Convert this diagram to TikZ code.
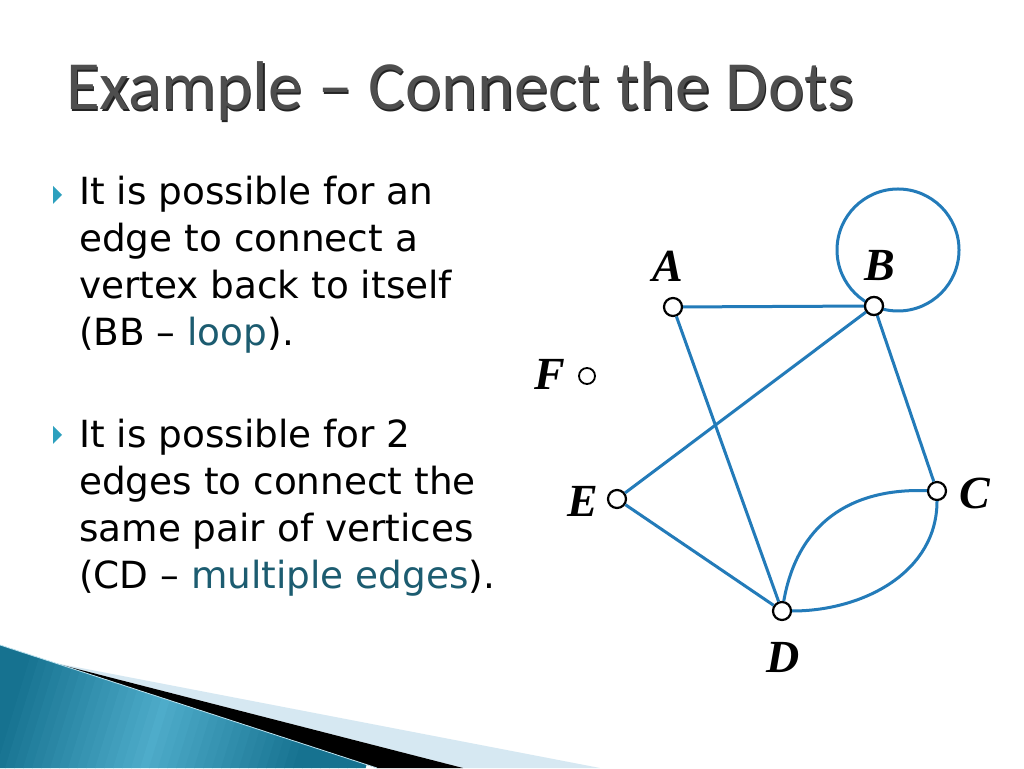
\documentclass[tikz,border=0pt]{standalone}
\usepackage{fontspec}
\setmainfont{DejaVu Sans}
\newfontfamily\titlefont{Carlito}
\newfontfamily\labelfont{Liberation Serif}
\usetikzlibrary{positioning}
\definecolor{edgeblue}{RGB}{35,123,185}
\definecolor{linkteal}{RGB}{28,92,112}
\definecolor{bulletteal}{RGB}{45,160,190}
\definecolor{titlegray}{RGB}{78,78,78}
\definecolor{titleshadow}{RGB}{35,35,35}
\definecolor{swoosh}{RGB}{22,114,144}
\definecolor{swooshlight}{RGB}{88,182,212}
\definecolor{paleblue}{RGB}{214,232,242}
\tikzset{
  vertex/.style={circle, draw=black, fill=white, line width=2.2pt, minimum size=18pt, inner sep=0pt},
  lonevertex/.style={vertex, line width=1.8pt, minimum size=16pt},
  vlabel/.style={font=\labelfont\bfseries\itshape\fontsize{46}{46}\selectfont, inner sep=0pt},
  edge/.style={draw=edgeblue, line width=3pt},
  bullettext/.style={anchor=north west, inner sep=0pt, align=left, font=\fontsize{37.4}{47}\selectfont},
  bulletmark/.style={fill=bulletteal},
  titletext/.style={anchor=base west, inner sep=0pt, text=titlegray, font=\titlefont\fontsize{69}{69}\selectfont},
}

\begin{document}
\begin{tikzpicture}[x=1pt,y=1pt]
\useasboundingbox (0,0) rectangle (1024,768);
\fill[white] (0,0) rectangle (1024,768);

\fill[paleblue] (50,106) -- (600,0) -- (463,0) -- cycle;
\fill[black] (50,106) -- (463,0) -- (377,0) -- cycle;
\begin{scope}
\clip (0,123) -- (377,0) -- (0,0) -- cycle;
\foreach \i in {0,...,44}{
  \pgfmathtruncatemacro\mixval{max(0,85-85*abs(\i-20)/17)}
  \fill[swooshlight!\mixval!swoosh] (\i*9-40,0) -- ++(9.6,0) -- ++(40,130) -- ++(-9.6,0) -- cycle;
}
\end{scope}
\draw[white!60!swooshlight, line width=0.8pt] (0,123) -- (377,0);

\node[titletext, text=titleshadow] at (67.2,656.8) {Example – Connect the Dots};
\node[titletext] (title) at (66,658) {Example – Connect the Dots};

\node[bullettext] (bulletA) at (79,592) {It is possible for an\\edge to connect a\\vertex back to itself\\(BB – \textcolor{linkteal}{loop}).};
\node[bullettext] (bulletB) at (79,349) {It is possible for 2\\edges to connect the\\same pair of vertices\\(CD – \textcolor{linkteal}{multiple edges}).};
\fill[bulletmark] (53,582) -- (62,573) -- (53,564) -- cycle;
\fill[bulletmark] (53,342) -- (62,333) -- (53,324) -- cycle;

\node[vertex] (A) at (673,461) {};
\node[vertex] (B) at (874,462) {};
\node[vertex] (C) at (937,277) {};
\node[vertex] (D) at (782,157) {};
\node[vertex] (E) at (617,269) {};
\node[lonevertex] (F) at (587,392) {};

\draw[edge] ([shift={(24,56)}]B.center) circle (61pt);
\draw[edge] (A) -- (B);
\draw[edge] (A) -- (D);
\draw[edge] (B) -- (E);
\draw[edge] (B) -- (C);
\draw[edge] (E) -- (D);
\draw[edge] (D) to[out=80,in=178,looseness=1.1] (C);
\draw[edge] (D) to[out=0,in=-90] (C);
\node[vertex] at (B) {};

\node[vlabel] (lA) at (668,502) {A};
\node[vlabel] (lB) at (880,502) {B};
\node[vlabel] (lC) at (975,275) {C};
\node[vlabel] (lD) at (783,111) {D};
\node[vlabel] (lE) at (583,267) {E};
\node[vlabel] (lF) at (550,394) {F};
\end{tikzpicture}
\end{document}
